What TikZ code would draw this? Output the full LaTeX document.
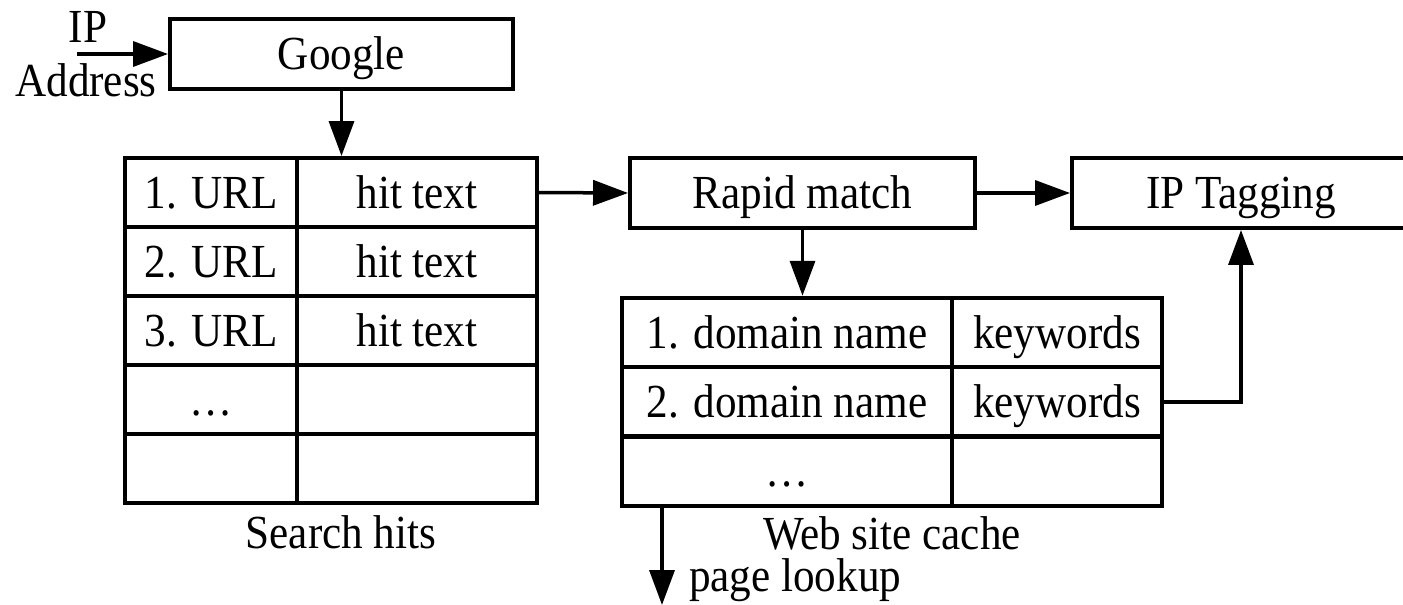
\documentclass[tikz,border=0pt]{standalone}
\usepackage{fontspec}
\setmainfont{Liberation Serif}[FakeStretch=0.91]
\usetikzlibrary{arrows.meta}

\tikzset{
	box/.style={draw, line width=0.08cm, inner sep=0pt, minimum height=1.38cm,
		text height=0.8cm, text depth=0.18cm},
	lbl/.style={inner sep=1pt},
	arr/.style={line width=0.07cm, -{Triangle[length=0.7cm,width=0.5cm]}},
}

\begin{document}
\begin{tikzpicture}[x=0.02cm,y=-0.02cm,font=\fontsize{27}{30}\selectfont]
\useasboundingbox (0,0) rectangle (1403,605);

\node[box, minimum width=6.86cm, minimum height=1.4cm] (google) at (341.5,54) {Google};
\node[box, minimum width=6.9cm, minimum height=1.4cm] (match) at (802.5,193) {Rapid match};
\node[box, minimum width=6.76cm, minimum height=1.4cm] (tag) at (1241,193) {IP Tagging};

% search hits table
\foreach \i/\url/\hit in {1/1. URL/hit text, 2/2. URL/hit text, 3/3. URL/hit text,
					4/{\ldots}/{}, 5/{}/{}}
{
	\node[box, minimum width=3.44cm] (h\i1) at (211,{192.5+69*(\i-1)}) {\url};
	\node[box, minimum width=4.8cm] (h\i2) at (417,{192.5+69*(\i-1)}) {\hit};
};

% web site cache table
\foreach \i/\dom/\kw in {1/1. domain name/keywords, 2/2. domain name/keywords, 3/{\ldots}/{}}
{
	\node[box, minimum width=6.6cm, minimum height=1.39cm] (c\i1) at (787,{332.5+69.3*(\i-1)}) {\dom};
	\node[box, minimum width=4.2cm, minimum height=1.39cm] (c\i2) at (1057,{332.5+69.3*(\i-1)}) {\kw};
};

\node[lbl, anchor=base] (hitslabel) at (341,548) {Search hits};
\node[lbl, anchor=base] (cachelabel) at (892,549) {Web site cache};
\node[lbl, anchor=base] (iplabel) at (88,42) {IP};
\node[lbl, anchor=base] (addrlabel) at (86,96) {Address};
\node[lbl, anchor=base west] (lookuplabel) at (687,591) {page lookup};

\coordinate (ipin) at (77,54);
\coordinate (lookup) at (662,605);

\draw[arr] (ipin) -- (google.west);
\draw[arr] (google.south) -- (google.south |- h12.north);
\draw[arr] (h12.east) -- (match.west);
\draw[arr] (match.east) -- (tag.west);
\draw[arr] (match.south) -- (match.south |- c11.north);
\draw[arr] (c22.east) -| (tag.south);
\draw[arr] (lookup |- c31.south) -- (lookup);
\end{tikzpicture}
\end{document}
